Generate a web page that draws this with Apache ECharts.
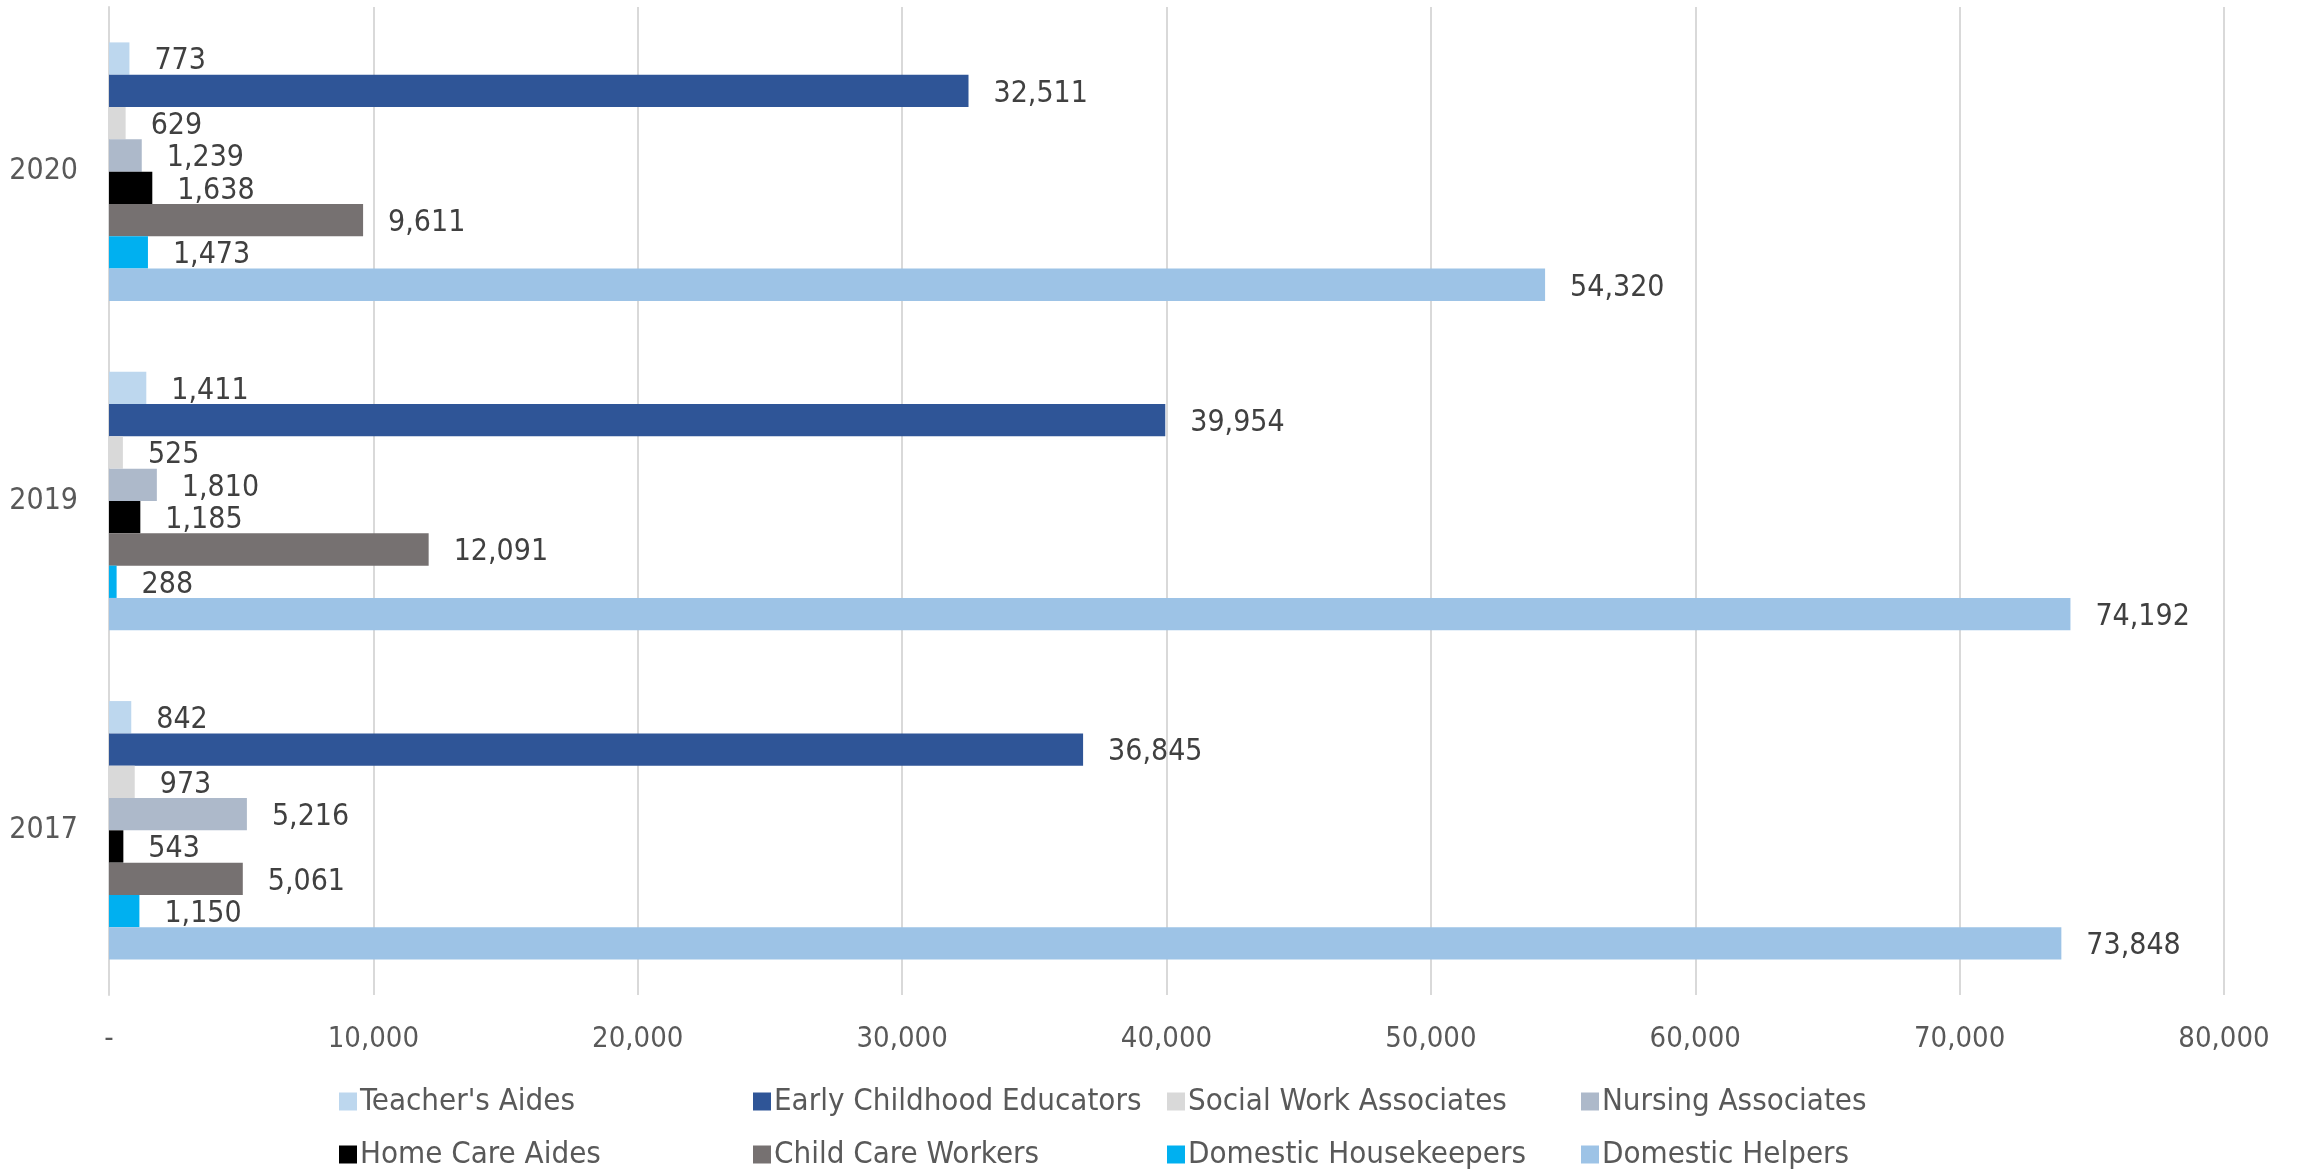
<!DOCTYPE html>
<html><head><meta charset="utf-8">
<script src="https://cdn.jsdelivr.net/npm/echarts@6/dist/echarts.min.js"></script>
<style>html,body{margin:0;padding:0;background:#fff}#c{width:2305px;height:1171px}</style>
</head><body><div id="c"></div>
<script>
const categories = ['2020', '2019', '2017'];
const seriesNames = ["Teacher's Aides", 'Early Childhood Educators', 'Social Work Associates', 'Nursing Associates',
  'Home Care Aides', 'Child Care Workers', 'Domestic Housekeepers', 'Domestic Helpers'];
const teachersAides = [773, 1411, 842];
const earlyChildhood = [32511, 39954, 36845];
const socialWork = [629, 525, 973];
const nursing = [1239, 1810, 5216];
const homeCare = [1638, 1185, 543];
const childCare = [9611, 12091, 5061];
const housekeepers = [1473, 288, 1150];
const helpers = [54320, 74192, 73848];
const colors = ['#BDD7EE', '#2F5597', '#D9D9D9', '#ADB9CA', '#000000', '#767171', '#00B0F0', '#9DC3E6'];
const allData = [teachersAides, earlyChildhood, socialWork, nursing, homeCare, childCare, housekeepers, helpers];

const FONT = "'DejaVu Sans Condensed', 'Roboto', sans-serif";
const fmt = v => v === 0 ? '-' : v.toLocaleString('en-US');

const legendCols = [339, 753, 1167, 1581];
const legendRows = [1086, 1139];

const chart = echarts.init(document.getElementById('c'), null, {renderer: 'canvas'});
const legends = seriesNames.map((name, i) => ({
  orient: 'horizontal', itemWidth: 18, itemHeight: 18, itemGap: 0, icon: 'rect',
  left: legendCols[i % 4], top: legendRows[Math.floor(i / 4)], data: [name],
  textStyle: {fontFamily: FONT, fontSize: 31, color: '#595959', padding: [0, 0, 0, -2]},
  selectedMode: false, padding: 0
}));
chart.setOption({
  animation: false,
  grid: {left: 109, right: 81, top: 7, bottom: 176, containLabel: false},
  legend: legends,
  xAxis: {
    type: 'value', min: 0, max: 80000, interval: 10000,
    axisLine: {show: false}, axisTick: {show: false},
    splitLine: {show: true, lineStyle: {color: '#D9D9D9', width: 2}},
    axisLabel: {formatter: fmt, fontFamily: FONT, fontSize: 29, color: '#595959', margin: 30}
  },
  yAxis: {
    type: 'category', data: categories, inverse: true,
    axisLine: {show: true, lineStyle: {color: '#D9D9D9', width: 2}},
    axisTick: {show: false},
    axisLabel: {fontFamily: FONT, fontSize: 30, color: '#595959', margin: 31}
  },
  series: seriesNames.map((name, i) => ({
    name, type: 'bar', data: allData[i],
    barGap: '0%', barCategoryGap: '21.5%',
    itemStyle: {color: colors[i]},
    label: {show: true, position: 'right', distance: 25, offset: [0, 3], formatter: p => fmt(p.value),
      fontFamily: FONT, fontSize: 30, color: '#404040'}
  }))
});
</script></body></html>
